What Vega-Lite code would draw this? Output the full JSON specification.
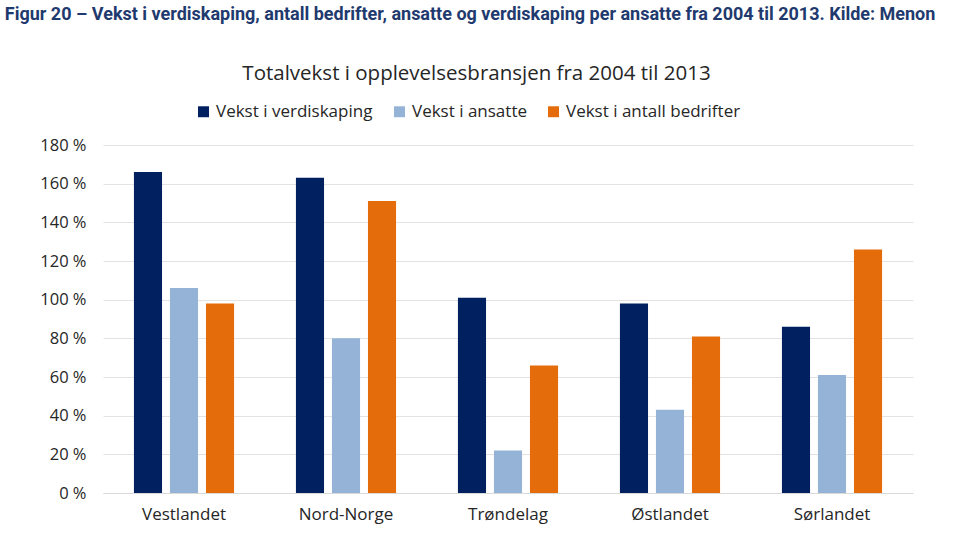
{
  "$schema": "https://vega.github.io/schema/vega-lite/v6.json",
  "autosize": {"type": "none"},
  "width": 810,
  "height": 348,
  "padding": {"left": 103, "top": 145, "right": 60, "bottom": 42},
  "background": "white",
  "title": {
    "text": "Figur 20 – Vekst i verdiskaping, antall bedrifter, ansatte og verdiskaping per ansatte fra 2004 til 2013. Kilde: Menon",
    "anchor": "start",
    "frame": "bounds",
    "dx": -35,
    "offset": 39,
    "font": "Roboto",
    "fontSize": 18,
    "fontWeight": "bold",
    "color": "#1f3a6e",
    "limit": 0
  },
  "data": {
    "values": [
      {"region": "Vestlandet", "serie": "Vekst i verdiskaping", "verdi": 166},
      {"region": "Vestlandet", "serie": "Vekst i ansatte", "verdi": 106},
      {"region": "Vestlandet", "serie": "Vekst i antall bedrifter", "verdi": 98},
      {"region": "Nord-Norge", "serie": "Vekst i verdiskaping", "verdi": 163},
      {"region": "Nord-Norge", "serie": "Vekst i ansatte", "verdi": 80},
      {"region": "Nord-Norge", "serie": "Vekst i antall bedrifter", "verdi": 151},
      {"region": "Trøndelag", "serie": "Vekst i verdiskaping", "verdi": 101},
      {"region": "Trøndelag", "serie": "Vekst i ansatte", "verdi": 22},
      {"region": "Trøndelag", "serie": "Vekst i antall bedrifter", "verdi": 66},
      {"region": "Østlandet", "serie": "Vekst i verdiskaping", "verdi": 98},
      {"region": "Østlandet", "serie": "Vekst i ansatte", "verdi": 43},
      {"region": "Østlandet", "serie": "Vekst i antall bedrifter", "verdi": 81},
      {"region": "Sørlandet", "serie": "Vekst i verdiskaping", "verdi": 86},
      {"region": "Sørlandet", "serie": "Vekst i ansatte", "verdi": 61},
      {"region": "Sørlandet", "serie": "Vekst i antall bedrifter", "verdi": 126}
    ]
  },
  "mark": {"type": "bar"},
  "encoding": {
    "x": {
      "field": "region",
      "type": "nominal",
      "sort": ["Vestlandet", "Nord-Norge", "Trøndelag", "Østlandet", "Sørlandet"],
      "scale": {"paddingInner": 0.333, "paddingOuter": 0.1665},
      "axis": {
        "title": null,
        "labelAngle": 0,
        "labelFont": "Open Sans",
        "labelFontSize": 17,
        "labelColor": "#262626",
        "labelPadding": 13,
        "ticks": false,
        "domainColor": "#d9d9d9",
        "domainWidth": 1
      }
    },
    "xOffset": {
      "field": "serie",
      "type": "nominal",
      "sort": ["Vekst i verdiskaping", "Vekst i ansatte", "Vekst i antall bedrifter"],
      "scale": {"paddingInner": 0.22, "paddingOuter": 0.11}
    },
    "y": {
      "field": "verdi",
      "type": "quantitative",
      "scale": {"domain": [0, 180], "nice": false},
      "axis": {
        "values": [0, 20, 40, 60, 80, 100, 120, 140, 160, 180],
        "labelExpr": "datum.value + ' %'",
        "labelFont": "Open Sans",
        "labelFontSize": 16.5,
        "labelColor": "#262626",
        "labelPadding": 17,
        "ticks": false,
        "domain": false,
        "gridColor": "#e3e3e3",
        "gridWidth": 1,
        "title": "Totalvekst i opplevelsesbransjen fra 2004 til 2013",
        "titleAngle": 0,
        "titleX": 373,
        "titleY": -72,
        "titleAlign": "center",
        "titleBaseline": "middle",
        "titleFont": "Open Sans",
        "titleFontSize": 20.5,
        "titleFontWeight": "normal",
        "titleColor": "#262626"
      }
    },
    "color": {
      "field": "serie",
      "type": "nominal",
      "sort": ["Vekst i verdiskaping", "Vekst i ansatte", "Vekst i antall bedrifter"],
      "scale": {
        "domain": ["Vekst i verdiskaping", "Vekst i ansatte", "Vekst i antall bedrifter"],
        "range": ["#002060", "#95b3d7", "#e46c0a"]
      },
      "legend": {
        "title": null,
        "orient": "none",
        "direction": "horizontal",
        "legendX": 92,
        "legendY": -42,
        "symbolType": "square",
        "symbolSize": 120,
        "symbolStrokeWidth": 0,
        "symbolOpacity": 1,
        "labelFont": "Open Sans",
        "labelFontSize": 17,
        "labelColor": "#262626",
        "labelOffset": 4,
        "labelLimit": 400,
        "columnPadding": 18
      }
    }
  },
  "config": {
    "view": {"stroke": null}
  }
}
